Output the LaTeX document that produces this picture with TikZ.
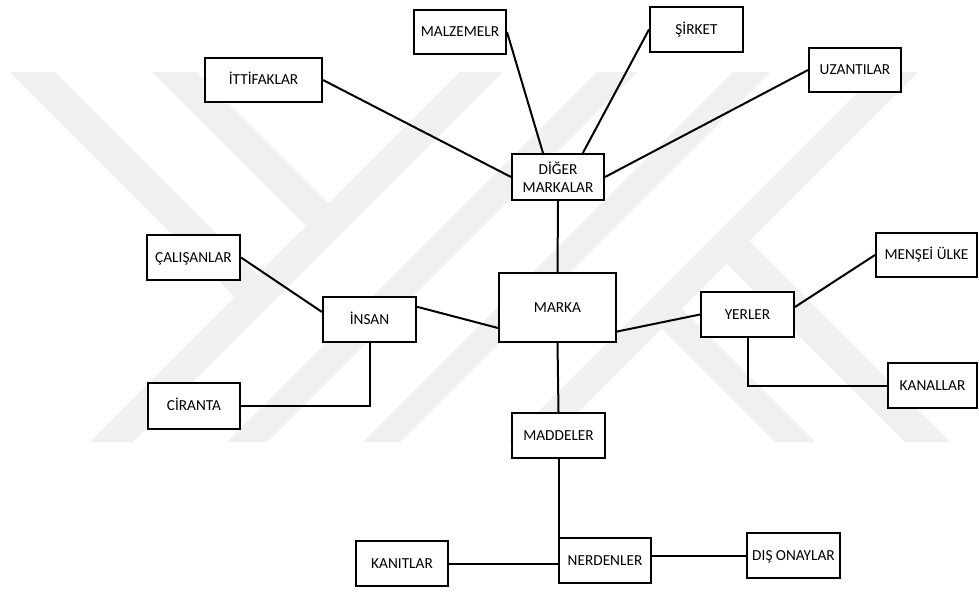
\documentclass[tikz,border=0pt]{standalone}
\usepackage{fontspec}
\setmainfont{Carlito}
\begin{document}
\begin{tikzpicture}[x=1pt,y=-1pt,
  box/.style={draw=black, line width=2.2pt, fill=white, inner sep=0pt, align=center,
    font=\fontsize{15.3}{17.7}\selectfont},
  one/.style={text height=9.9pt, text depth=0pt},
  conn/.style={line width=2pt},
  wm/.style={fill=black!6}]
\useasboundingbox (0,0) rectangle (979,592);
\fill[white] (0,0) rectangle (979,592);
% faint watermark
\fill[wm] (460,72) -- (503,72) -- (133,442) -- (90,442) -- cycle;
\fill[wm] (597,72) -- (637,72) -- (267,442) -- (227,442) -- cycle;
\fill[wm] (733,72) -- (770,72) -- (400,442) -- (363,442) -- cycle;
\fill[wm] (878,72) -- (918,72) -- (548,442) -- (508,442) -- cycle;
\fill[wm] (10,72) -- (55,72) -- (257.5,274.5) -- (235,297) -- cycle;
\fill[wm] (152,72) -- (197,72) -- (328.5,203.5) -- (306,226) -- cycle;
\fill[wm] (726.5,263.5) -- (749,241) -- (950,442) -- (905,442) -- cycle;
\fill[wm] (661.5,328.5) -- (681.5,308.5) -- (815,442) -- (775,442) -- cycle;
% nodes
\node[box, one, minimum width=91.8pt, minimum height=43.8pt] (malz) at (460,32) {MALZEMELR};
\node[box, one, minimum width=116.8pt, minimum height=43.8pt] (ittifak) at (263.5,80) {İTTİFAKLAR};
\node[box, minimum width=91.8pt, minimum height=45.8pt] (diger) at (558,177) {DİĞER\\MARKALAR};
\node[box, one, minimum width=92.8pt, minimum height=44.8pt] (sirket) at (696.5,29.5) {ŞİRKET};
\node[box, one, minimum width=91.8pt, minimum height=43.8pt] (uzant) at (855,70) {UZANTILAR};
\node[box, one, minimum width=92.8pt, minimum height=44.8pt] (calis) at (193.5,257.5) {ÇALIŞANLAR};
\node[box, one, minimum width=92.8pt, minimum height=44.8pt] (insan) at (369.5,319.5) {İNSAN};
\node[box, one, minimum width=91.8pt, minimum height=45.8pt] (ciranta) at (194,406) {CİRANTA};
\node[box, one, minimum width=116.8pt, minimum height=68.8pt] (marka) at (557.5,307.5) {MARKA};
\node[box, one, minimum width=92.8pt, minimum height=44.8pt] (yerler) at (747.5,314.5) {YERLER};
\node[box, one, minimum width=100.8pt, minimum height=43.8pt] (mensei) at (926.5,255) {MENŞEİ ÜLKE};
\node[box, one, minimum width=88.8pt, minimum height=44.8pt] (kanallar) at (932.5,385.5) {KANALLAR};
\node[box, one, minimum width=92.8pt, minimum height=44.8pt] (maddeler) at (558.5,435.5) {MADDELER};
\node[box, one, minimum width=91.8pt, minimum height=44.8pt] (nerden) at (605,560.5) {NERDENLER};
\node[box, one, minimum width=91.8pt, minimum height=44.8pt] (kanit) at (402,563.5) {KANITLAR};
\node[box, one, minimum width=92.8pt, minimum height=44.8pt] (dis) at (793.5,555.5) {DIŞ ONAYLAR};
% connectors
\draw[conn] (ittifak.east) -- (diger.west);
\draw[conn] (malz.east) -- (diger.122);
\draw[conn] (sirket.west) -- (diger.44);
\draw[conn] (uzant.west) -- (diger.east);
\draw[conn] (diger.south) -- (marka.north);
\draw[conn] (calis.east) -- (insan.171);
\draw[conn] (insan.south) |- (ciranta.east);
\draw[conn] (insan.15) -- (marka.199);
\draw[conn] (marka.338) -- (yerler.west);
\draw[conn] (yerler.9) -- (mensei.west);
\draw[conn] (yerler.south) |- (kanallar.west);
\draw[conn] (marka.south) -- (maddeler.north);
\draw[conn] (maddeler.south) -- (maddeler.south |- nerden.north);
\draw[conn] (kanit.east) -- (kanit.east -| nerden.west);
\draw[conn] (dis.west -| nerden.east) -- (dis.west);
\end{tikzpicture}
\end{document}
